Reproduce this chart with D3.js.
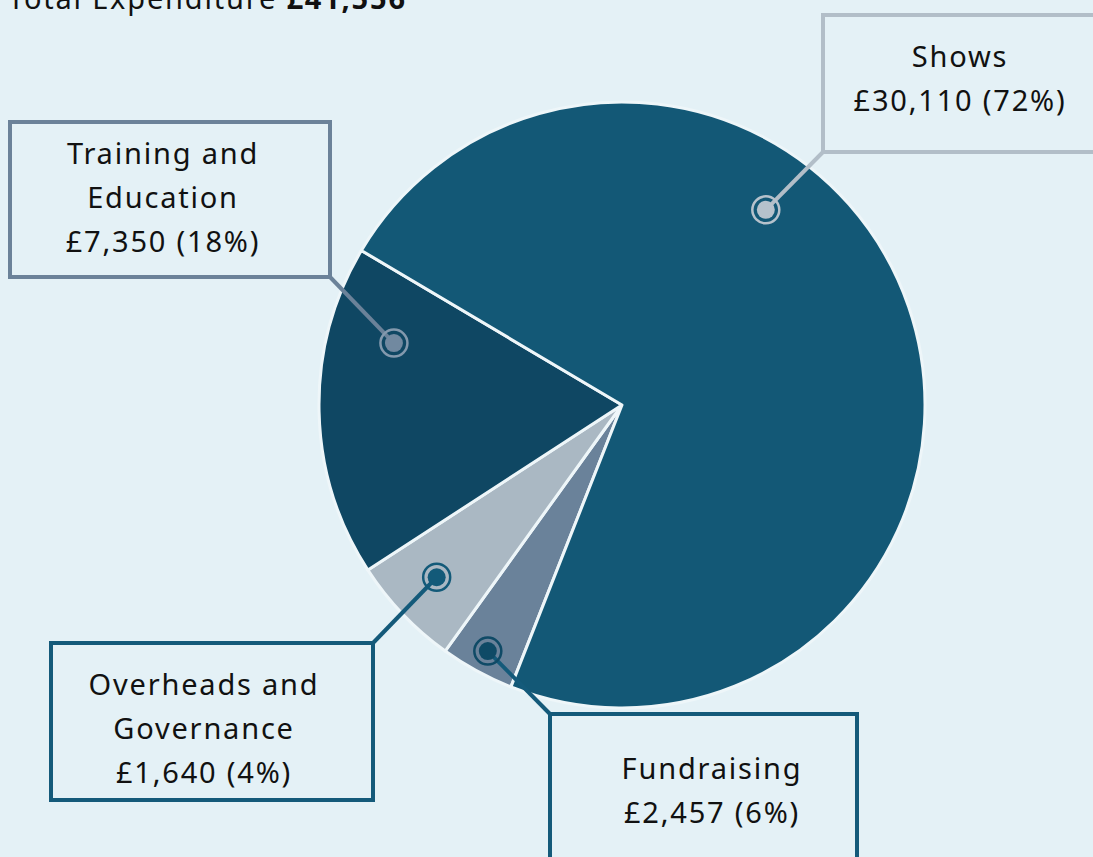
<!DOCTYPE html>
<html>
<head>
<meta charset="utf-8">
<script src="https://cdn.jsdelivr.net/npm/d3@7"></script>
<style>
    html, body { margin: 0; padding: 0; background: #e4f1f6; }
    svg { display: block; font-family: "Noto Sans", sans-serif; }
    .lbl { font-size: 29px; letter-spacing: 1.8px; fill: #111; }
</style>
</head>
<body>
<svg id="chart" width="1093" height="857"></svg>
<script>
// data -- wedges in drawing order (clockwise from ~7 o'clock)
const categories= ["Overheads and Governance", "Fundraising", "Training and Education", "Shows"]
const values= [1640, 2457, 7350, 30110]
const sliceColors= ["#6a829a", "#aab8c3", "#0f4763", "#135876"]

const titleText= "Total Expenditure "
const titleTotal= "£41,556"

// callout text lines
const labelLines= [
    ["Shows", "£30,110 (72%)"],
    ["Training and", "Education", "£7,350 (18%)"],
    ["Overheads and", "Governance", "£1,640 (4%)"],
    ["Fundraising", "£2,457 (6%)"],
]

// callout layout: box, text anchor, which wedge the marker sits on (t= fraction along wedge, r= fraction of radius)
const callouts= [
    {box: [823, 15, 300, 137], corner: [823, 152], tx: 960, ty: 67, slice: 3, t: 0.367, r: 0.80, border: "#b2bec8", dot: "#b6c2cc", ring: "#b6c2cc"},
    {box: [10, 122, 320, 155], corner: [330, 277], tx: 163, ty: 164, slice: 2, t: 0.757, r: 0.78, border: "#6b8299", dot: "#7189a0", ring: "#8399ad"},
    {box: [51, 643, 322, 157], corner: [373, 643], tx: 204, ty: 695, slice: 1, t: 0.535, r: 0.835, border: "#145a7a", dot: "#135a79", ring: "#135a79"},
    {box: [550, 714, 307, 160], corner: [550, 714], tx: 712, ty: 779, slice: 0, t: 0.5, r: 0.925, border: "#145a7a", dot: "#0f4a66", ring: "#0f4a66"},
]

const lineGap= 44

// inits
const svg= d3.select("#chart")
const cx= 622, cy= 405, radius= 303
const toRad= d => d * Math.PI / 180

// pie
const pie= d3.pie().sort(null).value(d => d)
    .startAngle(toRad(201.5)).endAngle(toRad(201.5 + 360))
const arcs= pie(values)
const arc= d3.arc().innerRadius(0).outerRadius(radius)

const g= svg.append("g").attr("transform", `translate(${cx},${cy})`)

g.selectAll("path.slice")
    .data(arcs)
    .join("path")
    .attr("class", "slice")
    .attr("d", arc)
    .attr("fill", (d, i) => sliceColors[i])
    .attr("stroke", "#eef6f9")
    .attr("stroke-width", 3)
    .attr("stroke-linejoin", "round")

// marker point on a wedge
function markerPos(c) {
    let a= arcs[c.slice]
    let ang= a.startAngle + c.t * (a.endAngle - a.startAngle)
    let rr= c.r * radius
    return [cx + rr * Math.sin(ang), cy - rr * Math.cos(ang)]
}

// callouts
callouts.forEach((c, i) => {
    let [mx, my]= markerPos(c)

    // leader line
    svg.append("line")
        .attr("x1", c.corner[0]).attr("y1", c.corner[1])
        .attr("x2", mx).attr("y2", my)
        .attr("stroke", c.border)
        .attr("stroke-width", 4)

    // box
    svg.append("rect")
        .attr("x", c.box[0]).attr("y", c.box[1])
        .attr("width", c.box[2]).attr("height", c.box[3])
        .attr("fill", "none")
        .attr("stroke", c.border)
        .attr("stroke-width", 4)

    // marker
    svg.append("circle")
        .attr("cx", mx).attr("cy", my).attr("r", 13.5)
        .attr("fill", "none")
        .attr("stroke", c.ring)
        .attr("stroke-width", 2.5)
    svg.append("circle")
        .attr("cx", mx).attr("cy", my).attr("r", 9)
        .attr("fill", c.dot)

    // text
    let txt= svg.append("text")
        .attr("class", "lbl")
        .attr("text-anchor", "middle")
    labelLines[i].forEach((s, j) => {
        txt.append("tspan")
            .attr("x", c.tx)
            .attr("y", c.ty + j * lineGap)
            .text(s)
    })
})

// title (cut off at top edge)
let title= svg.append("text")
    .attr("class", "lbl")
    .attr("x", 8).attr("y", 9)
title.append("tspan").text(titleText)
title.append("tspan").attr("font-weight", "bold").text(titleTotal)
</script>
</body>
</html>
